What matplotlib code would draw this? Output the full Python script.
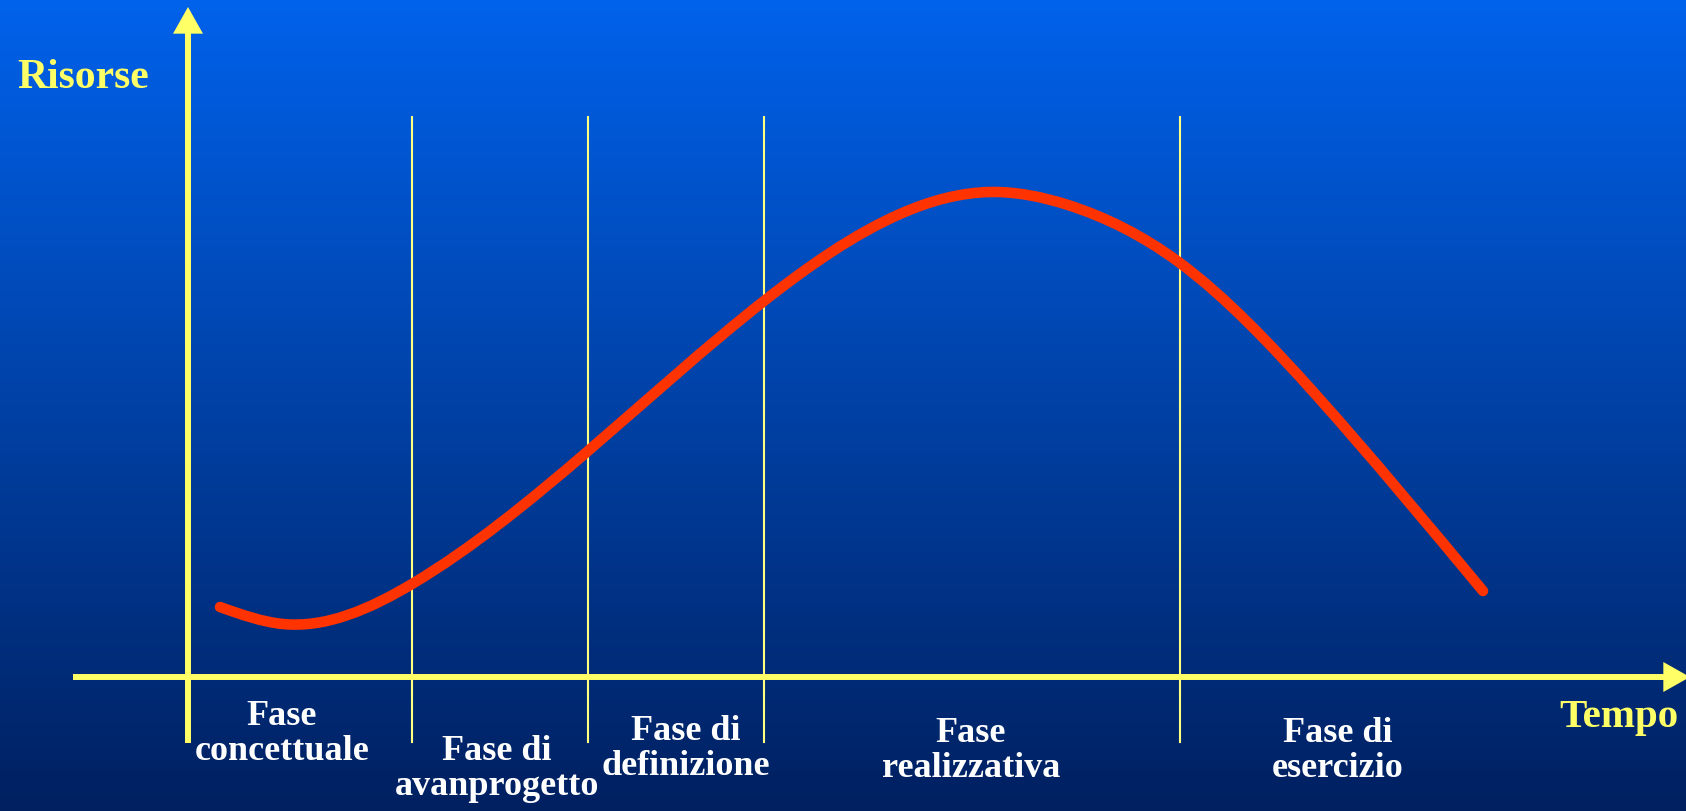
import numpy as np
import matplotlib
matplotlib.use('Agg')
import matplotlib.pyplot as plt
from matplotlib.path import Path
from matplotlib.patches import PathPatch

# resource curve over the project life cycle (time, resources)
tempo = [3.2, 9.5, 22.4, 40.0, 57.6, 71.2, 80.2, 88.0, 99.2, 112.9, 129.5]
risorse = [7.0, 5.3, 9.3, 22.6, 37.6, 46.3, 48.5, 47.2, 41.4, 28.1, 8.6]

# boundaries between phases
confini = [22.4, 40.0, 57.6, 99.2]

fasi = [["Fase", "concettuale"],
        ["Fase di", "avanprogetto"],
        ["Fase di", "definizione"],
        ["Fase", "realizzativa"],
        ["Fase di", "esercizio"]]
fasi_x = [9.4, 30.9, 49.8, 78.3, 115.0]
fasi_y = [-4.7, -8.2, -6.2, -6.4, -6.4]

giallo = '#FFFF66'
rosso = '#FF3300'
serif = 'Liberation Serif'


def smooth_path(x, y):
    # natural cubic spline through the points, written as bezier segments
    x = np.asarray(x, float)
    y = np.asarray(y, float)
    n = len(x)
    h = np.diff(x)
    s = np.diff(y) / h
    A = np.zeros((n, n))
    b = np.zeros(n)
    A[0, 0] = A[-1, -1] = 1
    for i in range(1, n - 1):
        A[i, i - 1] = h[i - 1]
        A[i, i] = 2 * (h[i - 1] + h[i])
        A[i, i + 1] = h[i]
        b[i] = 6 * (s[i] - s[i - 1])
    M = np.linalg.solve(A, b)
    verts = [(x[0], y[0])]
    codes = [Path.MOVETO]
    for i in range(n - 1):
        d0 = s[i] - h[i] * (2 * M[i] + M[i + 1]) / 6
        d1 = s[i] + h[i] * (M[i] + 2 * M[i + 1]) / 6
        k = h[i] / 3
        verts += [(x[i] + k, y[i] + d0 * k),
                  (x[i + 1] - k, y[i + 1] - d1 * k),
                  (x[i + 1], y[i + 1])]
        codes += [Path.CURVE4] * 3
    return Path(verts, codes)


fig = plt.figure(figsize=(16.86, 8.12), dpi=100)
ax = fig.add_axes([0, 0, 1, 1])
ax.set_xlim(-18.8, 149.8)
ax.set_ylim(-13.4, 67.8)
ax.axis('off')

# blue vertical gradient
top = np.array([0, 98, 235]) / 255.
bot = np.array([0, 32, 96]) / 255.
g = np.linspace(0, 1, 256)[:, None]
grad = top[None, :] * (1 - g) + bot[None, :] * g
ax.imshow(grad[:, None, :], extent=(-18.8, 149.8, -13.4, 67.8),
          aspect='auto', zorder=0)

for c in confini:
    ax.plot([c, c], [-6.5, 56.0], color='#FFFF80', lw=1.5, zorder=2)

# axes with arrows
ax.plot([-11.5, 148.0], [0, 0], color=giallo, lw=4.3, zorder=3,
        solid_capstyle='butt')
ax.plot([0, 0], [-6.6, 65.0], color=giallo, lw=4.3, zorder=3,
        solid_capstyle='butt')
stile = '-|>,head_length=1.6,head_width=0.9'
ax.annotate('', xy=(150.2, 0), xytext=(146.0, 0), annotation_clip=False,
            arrowprops=dict(arrowstyle=stile, color=giallo, lw=0,
                            mutation_scale=12, shrinkA=0, shrinkB=0),
            zorder=4)
ax.annotate('', xy=(0, 67.0), xytext=(0, 63.0), annotation_clip=False,
            arrowprops=dict(arrowstyle=stile, color=giallo, lw=0,
                            mutation_scale=12, shrinkA=0, shrinkB=0),
            zorder=4)

ax.add_patch(PathPatch(smooth_path(tempo, risorse), fill=False,
                       edgecolor=rosso, lw=7.6, capstyle='round',
                       joinstyle='round', zorder=5))

ax.text(-17.1, 59.0, 'Risorse', color=giallo, fontsize=30, family=serif,
        fontweight='bold', ha='left', va='baseline')
ax.text(149.0, -4.9, 'Tempo', color=giallo, fontsize=29.5, family=serif,
        fontweight='bold', ha='right', va='baseline')

for righe, x, y in zip(fasi, fasi_x, fasi_y):
    for i, riga in enumerate(righe):
        ax.text(x, y - 3.5 * i, riga, color='white', fontsize=26, family=serif,
                fontweight='bold', ha='center', va='baseline')

plt.savefig('out.png', dpi=100)
